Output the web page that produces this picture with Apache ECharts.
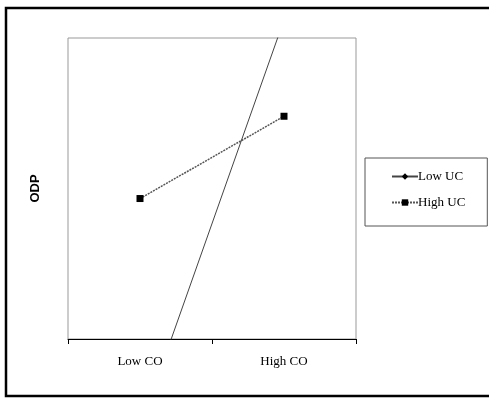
<!DOCTYPE html>
<html>
<head>
<meta charset="utf-8">
<script src="https://cdn.jsdelivr.net/npm/echarts@6/dist/echarts.min.js"></script>
<style>
html, body { margin: 0; padding: 0; background: #fff; }
#chart { width: 489px; height: 398px; }
</style>
</head>
<body>
<div id="chart"></div>
<script>
// x categories
const categories = ['Low CO', 'High CO'];
// ODP values (y axis is unlabeled, scale read as 2..5)
const lowUC = [1.12, 5.18];
const highUC = [3.40, 4.22];

var myChart = echarts.init(document.getElementById('chart'));
var option = {
    animation: false,
    graphic: [{
        type: 'rect',
        shape: { x: 6, y: 8, width: 500, height: 388 },
        style: { fill: 'none', stroke: '#000', lineWidth: 2.5 },
        silent: true
    }],
    grid: {
        left: 68, top: 38, right: 133, bottom: 59,
        show: true, borderColor: '#999', borderWidth: 1
    },
    legend: {
        orient: 'vertical',
        left: 365, top: 158,
        padding: [12, 22, 17, 26],
        borderColor: '#555', borderWidth: 1,
        itemWidth: 26, itemHeight: 8, itemGap: 13,
        textStyle: { fontFamily: 'Liberation Serif', fontSize: 13, color: '#000', padding: [0, 0, 0, -5] },
        data: ['Low UC', 'High UC']
    },
    xAxis: {
        type: 'category',
        data: categories,
        boundaryGap: true,
        axisLine: { show: true, lineStyle: { color: '#000', width: 1 } },
        axisTick: { show: true, length: 5, interval: 0, inside: false, lineStyle: { color: '#000', width: 1 } },
        axisLabel: { fontFamily: 'Liberation Serif', fontSize: 13, color: '#000', margin: 16 }
    },
    yAxis: {
        type: 'value',
        min: 2, max: 5,
        name: 'ODP',
        nameLocation: 'middle',
        nameRotate: 90,
        nameGap: 26,
        nameTextStyle: { fontFamily: 'Liberation Sans', fontWeight: 'bold', fontSize: 13, color: '#000' },
        axisLine: { show: false },
        axisTick: { show: false },
        axisLabel: { show: false },
        splitLine: { show: false }
    },
    series: [{
        name: 'Low UC',
        type: 'line',
        data: lowUC,
        symbol: 'diamond',
        symbolSize: 7,
        itemStyle: { color: '#000' },
        lineStyle: { color: '#444', width: 1, type: 'solid' },
        clip: true
    }, {
        name: 'High UC',
        type: 'line',
        data: highUC,
        symbol: 'rect',
        symbolSize: 7,
        itemStyle: { color: '#000' },
        lineStyle: { color: '#555', width: 1.5, type: [2, 1] },
        clip: true
    }]
};
myChart.setOption(option);
</script>
</body>
</html>
